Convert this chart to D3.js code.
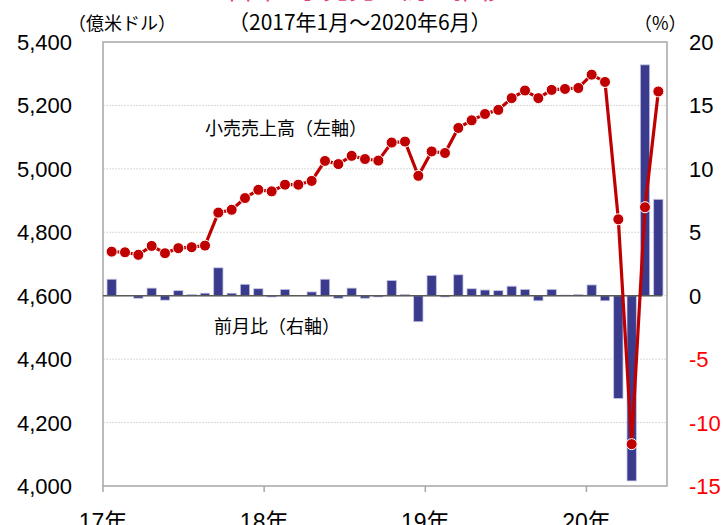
<!DOCTYPE html>
<html>
<head>
<meta charset="utf-8">
<title>retail sales</title>
<script src="https://cdn.jsdelivr.net/npm/d3@7"></script>
<style>
  body { margin: 0; background: #fff; }
  text { font-family: "Liberation Sans", Arial, "Noto Sans CJK JP", sans-serif; }
  .jp { font-family: "Noto Sans CJK JP", sans-serif; }
</style>
</head>
<body>
<script>
var width = 725
var height = 525

// monthly data, 2017/1 - 2020/6
var months = d3.range(42).map(function(i){ return i })
var sales = [4739, 4737, 4729, 4757, 4734, 4750, 4753, 4758, 4862, 4871, 4908, 4934,
             4929, 4950, 4950, 4962, 5025, 5015, 5041, 5031, 5026, 5083, 5086, 4978,
             5055, 5050, 5129, 5153, 5173, 5186, 5223, 5247, 5223, 5249, 5252, 5255,
             5297, 5274, 4841, 4132, 4879, 5244]
var mom = [1.3, 0.0, -0.2, 0.6, -0.35, 0.4, 0.1, 0.2, 2.2, 0.2, 0.9, 0.55,
           -0.1, 0.5, 0.0, 0.3, 1.3, -0.2, 0.6, -0.2, -0.1, 1.2, 0.1, -2.05,
           1.6, -0.1, 1.65, 0.55, 0.45, 0.4, 0.75, 0.5, -0.4, 0.5, 0.05, 0.1,
           0.85, -0.4, -8.1, -14.6, 18.2, 7.6]
var leftTicks = [4000, 4200, 4400, 4600, 4800, 5000, 5200, 5400]
var rightTicks = [-15, -10, -5, 0, 5, 10, 15, 20]
var yearLabels = ["17年", "18年", "19年", "20年"]

var margin = {left: 103, right: 58, top: 42, bottom: 39}
var x0 = margin.left, x1 = width - margin.right
var y0 = margin.top, y1 = height - margin.bottom

var svg = d3.select("body").append("svg")
    .attr("width", width).attr("height", height)

var x = d3.scaleBand().domain(months).range([x0, x1]).padding(0.3)
var yL = d3.scaleLinear().domain([4000, 5400]).range([y1, y0])
var yR = d3.scaleLinear().domain([-15, 20]).range([y1, y0])

// title, mostly above the top edge (only its bottom shows)
svg.append("text").attr("class", "jp")
    .attr("x", 362).attr("y", -1)
    .attr("text-anchor", "middle")
    .attr("font-size", 26).attr("fill", "#e0407a")
    .text("米国の小売売上高の推移")

// grid
svg.append("g").selectAll("line")
    .data(leftTicks.slice(1, -1))
    .enter().append("line")
    .attr("x1", x0).attr("x2", x1)
    .attr("y1", function(d){ return yL(d) }).attr("y2", function(d){ return yL(d) })
    .attr("stroke", "#d9d9d9").attr("stroke-dasharray", "2,1")

// frame
svg.append("rect")
    .attr("x", x0).attr("y", y0).attr("width", x1 - x0).attr("height", y1 - y0)
    .attr("fill", "none").attr("stroke", "#a6a6a6").attr("stroke-width", 1.5)

// year ticks on bottom
var xYear = d3.scaleLinear().domain([0, 42]).range([x0, x1])
svg.append("g").selectAll("line")
    .data(yearLabels)
    .enter().append("line")
    .attr("x1", function(d, i){ return xYear(i * 12) })
    .attr("x2", function(d, i){ return xYear(i * 12) })
    .attr("y1", y1).attr("y2", y1 + 6)
    .attr("stroke", "#a6a6a6").attr("stroke-width", 1.5)

svg.append("g").selectAll("text")
    .data(yearLabels)
    .enter().append("text")
    .attr("x", function(d, i){ return xYear(i * 12) })
    .attr("y", 530)
    .attr("text-anchor", "middle")
    .attr("font-size", 23).attr("fill", "#000")
    .text(function(d){ return d })

// bars
svg.append("g").selectAll("rect")
    .data(mom)
    .enter().append("rect")
    .attr("x", function(d, i){ return x(i) })
    .attr("width", x.bandwidth())
    .attr("y", function(d){ return d >= 0 ? yR(d) : yR(0) })
    .attr("height", function(d){ return Math.abs(yR(d) - yR(0)) })
    .attr("fill", "#3b3b8e")
    .attr("stroke", "#c5c5e4").attr("stroke-width", 0.8)

// zero line
svg.append("line")
    .attr("x1", x0).attr("x2", x1 - 5)
    .attr("y1", yR(0)).attr("y2", yR(0))
    .attr("stroke", "#595959").attr("stroke-width", 1.5)

// line
var line = d3.line()
    .x(function(d, i){ return x(i) + x.bandwidth() / 2 })
    .y(function(d){ return yL(d) })

svg.append("path")
    .attr("d", line(sales))
    .attr("fill", "none")
    .attr("stroke", "#c00000").attr("stroke-width", 3.2)

svg.append("g").selectAll("circle")
    .data(sales)
    .enter().append("circle")
    .attr("cx", function(d, i){ return x(i) + x.bandwidth() / 2 })
    .attr("cy", function(d){ return yL(d) })
    .attr("r", 5.5)
    .attr("fill", "#c00000")
    .attr("stroke", "#fff").attr("stroke-width", 1)

// left axis labels
svg.append("g").selectAll("text")
    .data(leftTicks)
    .enter().append("text")
    .attr("x", 72).attr("y", function(d){ return yL(d) + 8 })
    .attr("text-anchor", "end")
    .attr("font-size", 22).attr("fill", "#000")
    .text(function(d){ return d3.format(",")(d) })

// right axis labels
svg.append("g").selectAll("text")
    .data(rightTicks)
    .enter().append("text")
    .attr("x", 689).attr("y", function(d){ return yR(d) + 8 })
    .attr("font-size", 22)
    .attr("fill", function(d){ return d < 0 ? "#ff0000" : "#000" })
    .text(function(d){ return d })

// unit labels
svg.append("text").attr("class", "jp")
    .attr("x", 68).attr("y", 30).attr("font-size", 18)
    .text("（億米ドル）")
svg.append("text").attr("class", "jp")
    .attr("x", 228).attr("y", 30).attr("font-size", 21)
    .text("（2017年1月～2020年6月）")
svg.append("text").attr("class", "jp")
    .attr("x", 634).attr("y", 30).attr("font-size", 18)
    .text("（%）")

// series labels
svg.append("text").attr("class", "jp")
    .attr("x", 205).attr("y", 135).attr("font-size", 18)
    .text("小売売上高（左軸）")
svg.append("text").attr("class", "jp")
    .attr("x", 214).attr("y", 333).attr("font-size", 18)
    .text("前月比（右軸）")
</script>
</body>
</html>
